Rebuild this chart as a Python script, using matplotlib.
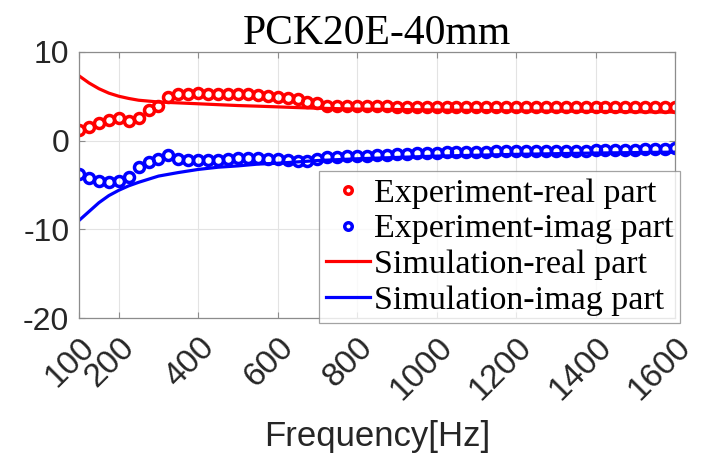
import matplotlib
matplotlib.use('Agg')
import matplotlib.pyplot as plt
import numpy as np

plt.rcParams['axes.unicode_minus'] = False

# experiment: measured every 25 Hz from 100 to 1600
freq_exp = np.arange(100, 1601, 25)
exp_real = [1.15, 1.5, 1.95, 2.3, 2.5, 2.25, 2.55, 3.5, 3.85, 4.9,
            5.25, 5.3, 5.35, 5.3, 5.3, 5.3, 5.3, 5.25, 5.1, 5.0,
            4.9, 4.8, 4.7, 4.4, 4.2, 3.95, 3.85, 3.9, 3.9, 3.9,
            3.85, 3.85, 3.8, 3.8, 3.8, 3.8, 3.75, 3.8, 3.8, 3.8,
            3.8, 3.8, 3.8, 3.8, 3.8, 3.8, 3.8, 3.8, 3.8, 3.8,
            3.8, 3.8, 3.8, 3.8, 3.8, 3.8, 3.8, 3.8, 3.8, 3.8,
            3.8]
exp_imag = [-3.75, -4.2, -4.5, -4.7, -4.6, -4.1, -3.0, -2.45, -2.05, -1.65,
            -2.05, -2.15, -2.2, -2.2, -2.15, -2.05, -2.0, -2.0, -2.0, -2.05,
            -2.1, -2.2, -2.3, -2.25, -2.05, -1.9, -1.8, -1.75, -1.7, -1.7,
            -1.65, -1.6, -1.55, -1.5, -1.45, -1.4, -1.35, -1.33, -1.3, -1.28,
            -1.26, -1.24, -1.22, -1.2, -1.19, -1.18, -1.17, -1.16, -1.15, -1.14,
            -1.13, -1.12, -1.1, -1.08, -1.06, -1.04, -1.02, -1.0, -0.97, -0.95,
            -0.8]

# simulation curves
freq_sim = [100, 125, 150, 175, 200, 225, 250, 300, 350, 400, 450, 500,
            550, 600, 650, 700, 800, 900, 1000, 1200, 1400, 1600]
sim_real = [7.3, 6.5, 5.85, 5.35, 5.0, 4.75, 4.55, 4.35, 4.25, 4.15, 4.05, 3.95,
            3.88, 3.8, 3.72, 3.65, 3.55, 3.5, 3.45, 3.35, 3.3, 3.2]
sim_imag = [-9.0, -8.0, -7.0, -6.2, -5.6, -5.1, -4.7, -4.0, -3.6, -3.25, -3.0, -2.85,
            -2.65, -2.55, -2.4, -2.25, -2.05, -1.9, -1.75, -1.55, -1.4, -1.3]

xticks = [100, 200, 400, 600, 800, 1000, 1200, 1400, 1600]
yticks = [-20, -10, 0, 10]

fig = plt.figure(figsize=(7.12, 4.55), dpi=100)
ax = fig.add_axes([0.111, 0.301, 0.837, 0.585])

ax.plot(freq_exp, exp_real, 'o', color='red', mfc='none', ms=7.2, mew=2.5,
        label='Experiment-real part')
ax.plot(freq_exp, exp_imag, 'o', color='blue', mfc='none', ms=7.2, mew=2.5,
        label='Experiment-imag part')
ax.plot(freq_sim, sim_real, '-', color='red', lw=2.3, label='Simulation-real part')
ax.plot(freq_sim, sim_imag, '-', color='blue', lw=2.3, label='Simulation-imag part')

ax.set_xlim(100, 1600)
ax.set_ylim(-20, 10)
ax.set_xticks(xticks)
ax.set_yticks(yticks)
ax.grid(True, color='#e3e3e3', lw=0.8)
ax.set_axisbelow(True)
for s in ax.spines.values():
    s.set_color('#8c8c8c')
    s.set_linewidth(0.9)
ax.tick_params(direction='in', length=4, width=0.8, color='#8c8c8c',
               top=True, right=True, labelcolor='#262626')
ax.tick_params(axis='y', pad=7, labelsize=23)
ax.tick_params(axis='x', pad=10, labelsize=24)
for lab in ax.get_xticklabels() + ax.get_yticklabels():
    lab.set_family('Liberation Sans')
plt.setp(ax.get_xticklabels(), rotation=45, ha='right', va='top',
         rotation_mode='anchor')

ax.set_title('PCK20E-40mm', family='Liberation Serif', fontsize=30, pad=6)
ax.set_xlabel('Frequency[Hz]', family='Liberation Sans', fontsize=25,
              color='#262626', labelpad=10)

leg = ax.legend(loc='lower left', bbox_to_anchor=(0.403, -0.019),
                prop={'family': 'Liberation Serif', 'size': 24.5},
                frameon=True, fancybox=False, borderpad=0.2, labelspacing=0.15,
                handlelength=1.3, handletextpad=0.1, borderaxespad=0,
                markerscale=0.75)
leg.get_frame().set_edgecolor('#8c8c8c')
leg.get_frame().set_linewidth(0.9)

fig.savefig('out.png', dpi=100)
